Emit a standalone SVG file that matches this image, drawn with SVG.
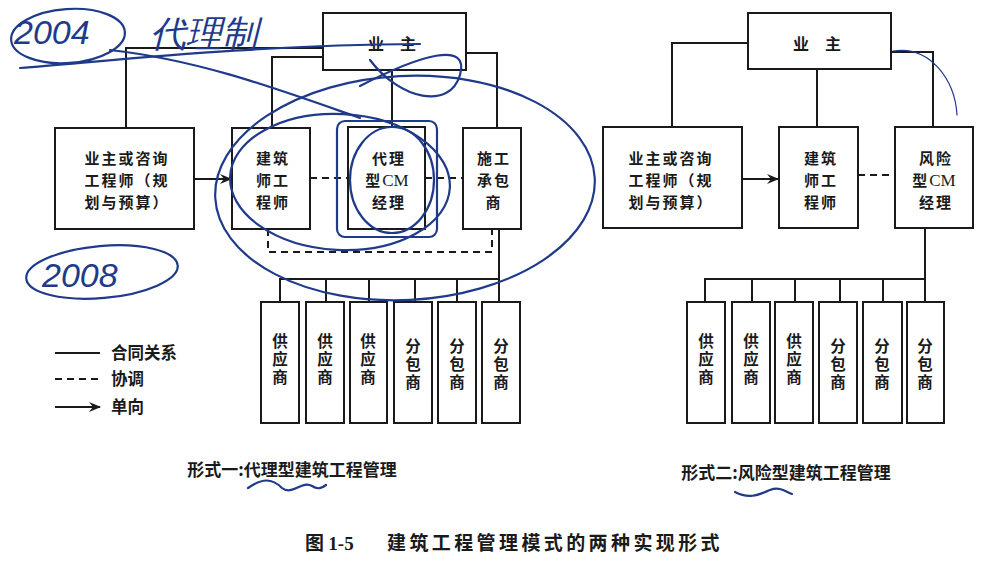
<svg xmlns="http://www.w3.org/2000/svg" width="1002" height="565" viewBox="0 0 1002 565">
<defs>
<style>
.bx{fill:#fff;stroke:#1a1a1a;stroke-width:2}
.ln{fill:none;stroke:#1a1a1a;stroke-width:2}
.ds{fill:none;stroke:#1a1a1a;stroke-width:2;stroke-dasharray:7 5}
.t{font-family:"Noto Sans CJK SC","Liberation Sans",sans-serif;font-size:15px;font-weight:700;fill:#1a1a1a;text-anchor:middle;letter-spacing:2px}
.v{font-family:"Noto Sans CJK SC","Liberation Sans",sans-serif;font-size:15.5px;font-weight:700;fill:#1a1a1a;writing-mode:vertical-rl;letter-spacing:2.5px}
.lg{font-family:"Noto Sans CJK SC","Liberation Sans",sans-serif;font-size:16.5px;font-weight:700;fill:#1a1a1a}
.cap{font-family:"Noto Sans CJK SC","Liberation Sans",sans-serif;font-size:17px;font-weight:700;fill:#1a1a1a;text-anchor:middle}
.s{font-family:"Liberation Serif",serif;font-weight:400;font-size:17px;letter-spacing:0}
.an{fill:none;stroke:#1f3a8a;stroke-width:2.2;stroke-linecap:round}
.ht{font-family:"Liberation Sans",sans-serif;font-style:italic;font-size:30px;fill:#1f3a8a}
</style>
<marker id="arr" viewBox="0 0 12 10" refX="11" refY="5" markerWidth="12" markerHeight="10" markerUnits="userSpaceOnUse" orient="auto">
<path d="M0,0 L12,5 L0,10 L4,5 Z" fill="#1a1a1a"/>
</marker>
</defs>
<rect width="1002" height="565" fill="#fff"/>

<!-- connectors -->
<g id="connectors">
<!-- form one -->
<polyline class="ln" points="323,48 126,48 126,128"/>
<polyline class="ln" points="323,57 272,57 272,128"/>
<line class="ln" x1="392" y1="70" x2="392" y2="127"/>
<polyline class="ln" points="466,53 497,53 497,128"/>
<line class="ln" x1="194" y1="179" x2="231" y2="179" marker-end="url(#arr)"/>
<line class="ds" x1="310" y1="178" x2="348" y2="178"/>
<line class="ds" x1="425" y1="178" x2="463" y2="178"/>
<polyline class="ds" points="268,229 268,252 492,252 492,229"/>
<line class="ln" x1="499" y1="229" x2="499" y2="302"/>
<line class="ln" x1="279" y1="279" x2="500" y2="279"/>
<line class="ln" x1="280" y1="279" x2="280" y2="302"/>
<line class="ln" x1="326" y1="279" x2="326" y2="302"/>
<line class="ln" x1="369" y1="279" x2="369" y2="302"/>
<line class="ln" x1="415" y1="279" x2="415" y2="302"/>
<line class="ln" x1="457" y1="279" x2="457" y2="302"/>
<!-- form two -->
<polyline class="ln" points="748,43 672,43 672,127"/>
<line class="ln" x1="817" y1="69" x2="817" y2="127"/>
<polyline class="ln" points="891,52 933,52 933,127"/>
<line class="ln" x1="742" y1="179" x2="778" y2="179" marker-end="url(#arr)"/>
<line class="ds" x1="858" y1="175" x2="895" y2="175"/>
<line class="ln" x1="925" y1="228" x2="925" y2="302"/>
<line class="ln" x1="704" y1="279" x2="926" y2="279"/>
<line class="ln" x1="705" y1="279" x2="705" y2="302"/>
<line class="ln" x1="752" y1="279" x2="752" y2="302"/>
<line class="ln" x1="795" y1="279" x2="795" y2="302"/>
<line class="ln" x1="840" y1="279" x2="840" y2="302"/>
<line class="ln" x1="883" y1="279" x2="883" y2="302"/>
</g>

<!-- form one nodes -->
<g id="owner1"><rect class="bx" x="323" y="13" width="143" height="57"/><text class="t" x="392" y="50" style="letter-spacing:0;font-size:16px">业　主</text></g>
<g id="consult1"><rect class="bx" x="55" y="128" width="139" height="101"/>
<text class="t"><tspan x="127" y="164">业主或咨询</tspan><tspan x="127" y="186">工程师（规</tspan><tspan x="127" y="208">划与预算）</tspan></text></g>
<g id="architect1"><rect class="bx" x="232" y="128" width="78" height="101"/>
<text class="t"><tspan x="273" y="164">建筑</tspan><tspan x="273" y="186">师工</tspan><tspan x="273" y="208">程师</tspan></text></g>
<g id="cm1"><rect class="bx" x="348" y="127" width="77" height="102"/>
<text class="t"><tspan x="389" y="164">代理</tspan><tspan x="387" y="186">型<tspan class="s">CM</tspan></tspan><tspan x="389" y="208">经理</tspan></text></g>
<g id="contractor1"><rect class="bx" x="463" y="128" width="58" height="101"/>
<text class="t"><tspan x="494" y="164">施工</tspan><tspan x="494" y="186">承包</tspan><tspan x="494" y="208">商</tspan></text></g>
<g id="s1a"><rect class="bx" x="261" y="302" width="38" height="121"/><text class="v" x="280" y="333">供应商</text></g>
<g id="s1b"><rect class="bx" x="306" y="302" width="38" height="121"/><text class="v" x="325" y="333">供应商</text></g>
<g id="s1c"><rect class="bx" x="350" y="302" width="37" height="121"/><text class="v" x="368" y="333">供应商</text></g>
<g id="sub1a"><rect class="bx" x="394" y="302" width="38" height="121"/><text class="v" x="413" y="338">分包商</text></g>
<g id="sub1b"><rect class="bx" x="438" y="302" width="38" height="121"/><text class="v" x="457" y="338">分包商</text></g>
<g id="sub1c"><rect class="bx" x="482" y="302" width="38" height="121"/><text class="v" x="501" y="338">分包商</text></g>

<!-- form two nodes -->
<g id="owner2"><rect class="bx" x="748" y="13" width="143" height="56"/><text class="t" x="817" y="50" style="letter-spacing:0;font-size:16px">业　主</text></g>
<g id="consult2"><rect class="bx" x="603" y="127" width="139" height="101"/>
<text class="t"><tspan x="671" y="164">业主或咨询</tspan><tspan x="671" y="186">工程师（规</tspan><tspan x="671" y="208">划与预算）</tspan></text></g>
<g id="architect2"><rect class="bx" x="779" y="127" width="79" height="101"/>
<text class="t"><tspan x="821" y="164">建筑</tspan><tspan x="821" y="186">师工</tspan><tspan x="821" y="208">程师</tspan></text></g>
<g id="cm2"><rect class="bx" x="895" y="127" width="78" height="101"/>
<text class="t"><tspan x="936" y="164">风险</tspan><tspan x="934" y="186">型<tspan class="s">CM</tspan></tspan><tspan x="936" y="208">经理</tspan></text></g>
<g id="s2a"><rect class="bx" x="687" y="302" width="38" height="121"/><text class="v" x="706" y="333">供应商</text></g>
<g id="s2b"><rect class="bx" x="732" y="302" width="38" height="121"/><text class="v" x="751" y="333">供应商</text></g>
<g id="s2c"><rect class="bx" x="775" y="302" width="38" height="121"/><text class="v" x="794" y="333">供应商</text></g>
<g id="sub2a"><rect class="bx" x="819" y="302" width="38" height="121"/><text class="v" x="838" y="338">分包商</text></g>
<g id="sub2b"><rect class="bx" x="863" y="302" width="39" height="121"/><text class="v" x="882" y="338">分包商</text></g>
<g id="sub2c"><rect class="bx" x="907" y="302" width="37" height="121"/><text class="v" x="925" y="338">分包商</text></g>

<!-- legend -->
<g id="legend">
<line class="ln" x1="55" y1="353" x2="100" y2="353"/><text class="lg" x="111" y="359">合同关系</text>
<line class="ds" x1="55" y1="379" x2="100" y2="379"/><text class="lg" x="111" y="385">协调</text>
<line class="ln" x1="55" y1="407" x2="100" y2="407" marker-end="url(#arr)"/><text class="lg" x="111" y="413">单向</text>
</g>

<!-- captions -->
<g id="captions">
<text class="cap" x="292" y="476">形式一:代理型建筑工程管理</text>
<text class="cap" x="786" y="479">形式二:风险型建筑工程管理</text>
<text class="cap" x="305" y="550" style="text-anchor:start;font-size:19px">图 <tspan class="s" style="font-size:19px;font-weight:700">1-5</tspan><tspan x="387" style="letter-spacing:3.4px">建筑工程管理模式的两种实现形式</tspan></text>
</g>

<!-- handwritten annotations -->
<g id="annotations">
<ellipse class="an" cx="68" cy="36" rx="57" ry="27" transform="rotate(-4 68 36)"/>
<text class="ht" x="14" y="44" style="font-size:34px">2004</text>
<text class="ht" x="150" y="46" style="font-size:36px">代理制</text>
<ellipse class="an" cx="102" cy="272" rx="76" ry="26" transform="rotate(-5 102 272)"/>
<text class="ht" x="42" y="287" style="font-size:34px">2008</text>
<path class="an" d="M20,68 C120,60 250,45 420,44"/>
<path class="an" d="M110,50 C200,60 280,90 360,118"/>
<ellipse class="an" cx="405" cy="188" rx="190" ry="112" transform="rotate(-3 405 188)"/>
<ellipse class="an" cx="340" cy="182" rx="110" ry="68" transform="rotate(3 340 182)"/>
<ellipse class="an" cx="392" cy="180" rx="42" ry="53"/>
<rect class="an" x="337" y="121" width="100" height="116" rx="8"/>
<path class="an" d="M360,86 C420,55 470,40 460,75 C450,110 400,100 370,60"/>
<path class="an" d="M248,488 C262,478 272,478 282,488 C292,496 302,480 312,486 C318,490 322,488 326,485"/>
<path class="an" d="M735,492 C750,500 760,494 770,490 C780,486 786,492 792,494"/>
<path class="an" style="stroke-width:1.2" d="M893,51 C930,45 955,80 957,115"/>
</g>
</svg>
